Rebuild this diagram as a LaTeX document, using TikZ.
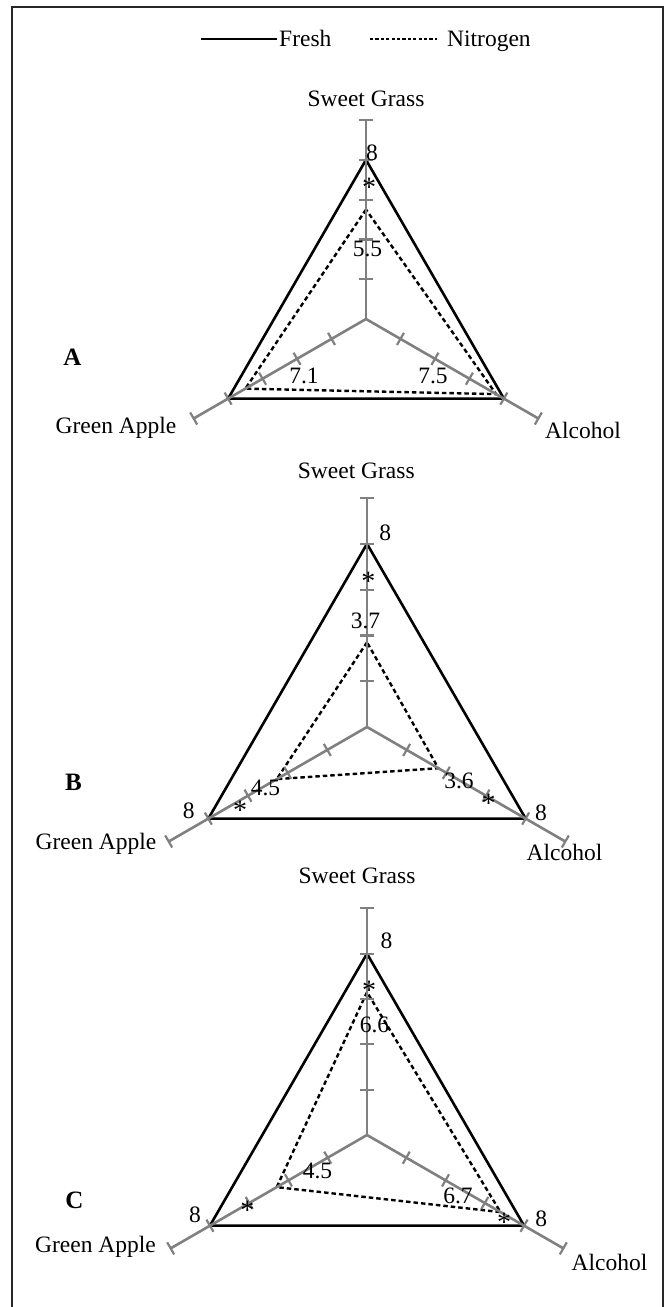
\documentclass[tikz,border=0pt]{standalone}
\usepackage{fontspec}
\setmainfont{Liberation Serif}
\definecolor{axisgray}{RGB}{128,128,128}
\definecolor{framegray}{RGB}{40,40,40}
\newcommand\radarpanel[7]{%
  \begin{scope}[shift={(#2pt,-#3pt)}, x=#4pt, y=#4pt]
    \coordinate (#1c) at (0,0);
    \coordinate (#1fs) at (90:8);
    \coordinate (#1fg) at (210:8);
    \coordinate (#1fa) at (330:8);
    \coordinate (#1ns) at (90:#5);
    \coordinate (#1ng) at (210:#6);
    \coordinate (#1na) at (330:#7);
    \draw[freshline] (#1fs) -- (#1fg) -- (#1fa) -- cycle;
    \draw[nitroline] (#1ns) -- (#1ng) -- (#1na) -- cycle;
    \foreach \a in {90,210,330}{
      \coordinate (#1e\a) at (\a:10);
      \draw[axisline] (#1c) -- (#1e\a);
      \foreach \v in {2,4,6,8,10}{
        \draw[tickline] (\a:\v) ++({\a+90}:7pt) -- ++({\a-90}:14pt);
      }
    }
  \end{scope}}
\begin{document}
\begin{tikzpicture}[x=1pt,y=1pt,
  every node/.style={font=\fontsize{23.5}{28}\selectfont, inner sep=0pt},
  axisline/.style={draw=axisgray, line width=2.6pt},
  tickline/.style={draw=axisgray, line width=2.2pt},
  freshline/.style={draw=black, line width=2.6pt},
  nitroline/.style={draw=black, line width=2.4pt, dash pattern=on 4.5pt off 3pt},
  legfresh/.style={draw=black, line width=2.2pt},
  legnitro/.style={draw=black, line width=1.8pt, dash pattern=on 3.2pt off 2.2pt},
  framestyle/.style={draw=framegray, line width=2pt},
  lbl/.style={anchor=base},
  panellbl/.style={anchor=base, font=\fontsize{25}{30}\selectfont\bfseries},
  starlbl/.style={anchor=center, yshift=-4pt, font=\fontsize{28}{32}\selectfont}]
\useasboundingbox (0,0) rectangle (667,-1307);
\coordinate (fr1) at (12,-1307);
\coordinate (fr2) at (12,-7);
\coordinate (fr3) at (663,-7);
\coordinate (fr4) at (663,-1307);
\draw[framestyle] (fr1) -- (fr2) -- (fr3) -- (fr4);

% legend
\coordinate (lf1) at (201,-39);
\coordinate (lf2) at (277,-39);
\draw[legfresh] (lf1) -- (lf2);
\node[anchor=base west] (lfresh) at (279,-46.7) {Fresh};
\coordinate (ln1) at (370,-39);
\coordinate (ln2) at (437,-39);
\draw[legnitro] (ln1) -- (ln2);
\node[anchor=base west] (lnitro) at (447,-46.7) {Nitrogen};

% panels
\radarpanel{A}{366}{319}{19.9}{5.5}{7.0}{7.55}
\radarpanel{B}{367}{727}{22.9}{3.7}{4.55}{3.6}
\radarpanel{C}{367}{1135}{22.67}{6.3}{4.6}{6.8}

% panel A labels
\node[lbl] (Asg) at (366,-106) {Sweet Grass};
\node[lbl] (Aga) at (116,-433) {Green Apple};
\node[lbl] (Aal) at (583,-438) {Alcohol};
\node[panellbl] (Aname) at (72.5,-365) {A};
\node[lbl] (Av1) at (372,-160) {8};
\node[lbl] (Av2) at (367.5,-256.7) {5.5};
\node[lbl] (Av3) at (304,-383) {7.1};
\node[lbl] (Av4) at (433,-383) {7.5};
\node[starlbl] (As1) at (369,-183.3) {*};

% panel B labels
\node[lbl] (Bsg) at (356.3,-478.3) {Sweet Grass};
\node[lbl] (Bga) at (96,-849) {Green Apple};
\node[lbl] (Bal) at (564.5,-860) {Alcohol};
\node[panellbl] (Bname) at (73.5,-790) {B};
\node[lbl] (Bv1) at (385.3,-540.7) {8};
\node[lbl] (Bv2) at (365.5,-628) {3.7};
\node[lbl] (Bv3) at (265.5,-795) {4.5};
\node[lbl] (Bv4) at (188.7,-818) {8};
\node[lbl] (Bv5) at (459,-788) {3.6};
\node[lbl] (Bv6) at (541,-820) {8};
\node[starlbl] (Bs1) at (368.3,-577.3) {*};
\node[starlbl] (Bs2) at (240,-806.7) {*};
\node[starlbl] (Bs3) at (488.7,-799.3) {*};

% panel C labels
\node[lbl] (Csg) at (357,-883) {Sweet Grass};
\node[lbl] (Cga) at (95.5,-1252.7) {Green Apple};
\node[lbl] (Cal) at (609.5,-1270.7) {Alcohol};
\node[panellbl] (Cname) at (74.5,-1208) {C};
\node[lbl] (Cv1) at (386.5,-948) {8};
\node[lbl] (Cv2) at (374.5,-1032) {6.6};
\node[lbl] (Cv3) at (317.5,-1178) {4.5};
\node[lbl] (Cv4) at (195,-1222.7) {8};
\node[lbl] (Cv5) at (458,-1203) {6.7};
\node[lbl] (Cv6) at (541.3,-1226) {8};
\node[starlbl] (Cs1) at (369,-986) {*};
\node[starlbl] (Cs2) at (247.3,-1206) {*};
\node[starlbl] (Cs3) at (504,-1218.3) {*};
\end{tikzpicture}
\end{document}
